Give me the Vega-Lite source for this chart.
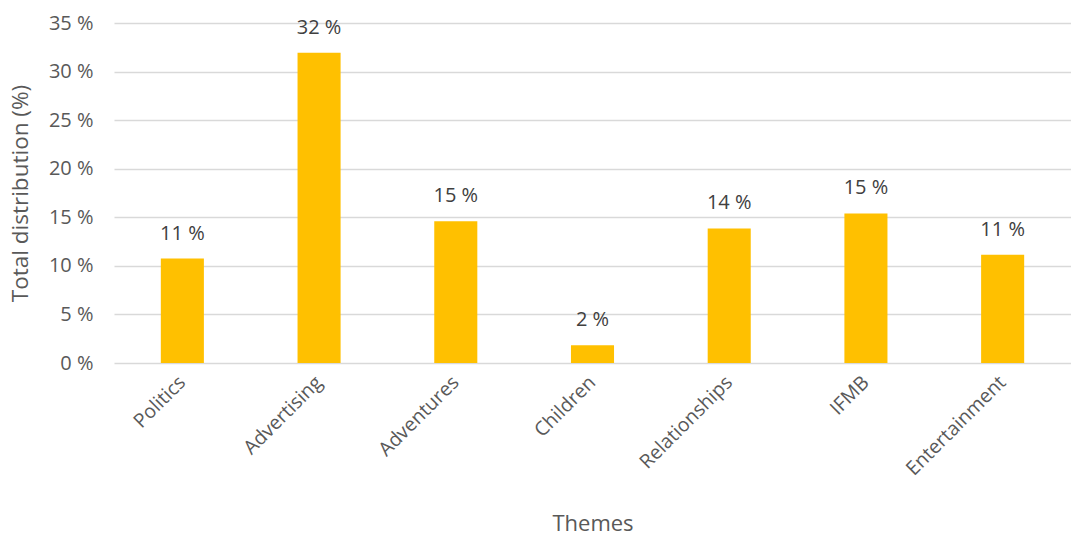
{
  "$schema": "https://vega.github.io/schema/vega-lite/v6.json",
  "width": 957,
  "height": 340,
  "autosize": {"type": "none"},
  "padding": {"left": 114, "top": 23, "right": 0, "bottom": 174},
  "background": "white",
  "config": {
    "view": {"stroke": null},
    "font": "Open Sans",
    "axis": {"labelFont": "Open Sans", "titleFont": "Open Sans", "labelColor": "#595959", "titleColor": "#595959", "titleFontWeight": "normal"}
  },
  "data": {
    "values": [
      {"theme": "Politics", "value": 10.75},
      {"theme": "Advertising", "value": 31.95},
      {"theme": "Adventures", "value": 14.6},
      {"theme": "Children", "value": 1.82},
      {"theme": "Relationships", "value": 13.85},
      {"theme": "IFMB", "value": 15.4},
      {"theme": "Entertainment", "value": 11.15}
    ]
  },
  "encoding": {
    "x": {
      "field": "theme",
      "type": "nominal",
      "sort": null,
      "scale": {"paddingInner": 0, "paddingOuter": 0},
      "axis": {
        "title": "Themes",
        "titleFontSize": 22,
        "titlePadding": 35,
        "labelAngle": -45,
        "labelAlign": "right",
        "labelBaseline": "middle",
        "labelFontSize": 19.5,
        "labelPadding": 16,
        "domain": false,
        "ticks": false
      }
    },
    "y": {
      "field": "value",
      "type": "quantitative",
      "scale": {"domain": [0, 35], "nice": false},
      "axis": {
        "title": "Total distribution (%)",
        "titleFontSize": 22.5,
        "titlePadding": 16,
        "values": [0, 5, 10, 15, 20, 25, 30, 35],
        "labelExpr": "datum.value + ' %'",
        "labelFontSize": 20,
        "labelPadding": 21,
        "domain": false,
        "ticks": false,
        "grid": true,
        "gridColor": "#D9D9D9",
        "gridWidth": 1.5
      }
    }
  },
  "layer": [
    {
      "mark": {"type": "bar", "color": "#FFC000", "width": {"band": 0.315}}
    },
    {
      "transform": [{"calculate": "format(datum.value, '.0f') + ' %'", "as": "label"}],
      "mark": {"type": "text", "dy": -25, "fontSize": 20, "color": "#404040", "font": "Open Sans"},
      "encoding": {
        "text": {"field": "label", "type": "nominal"}
      }
    }
  ]
}
